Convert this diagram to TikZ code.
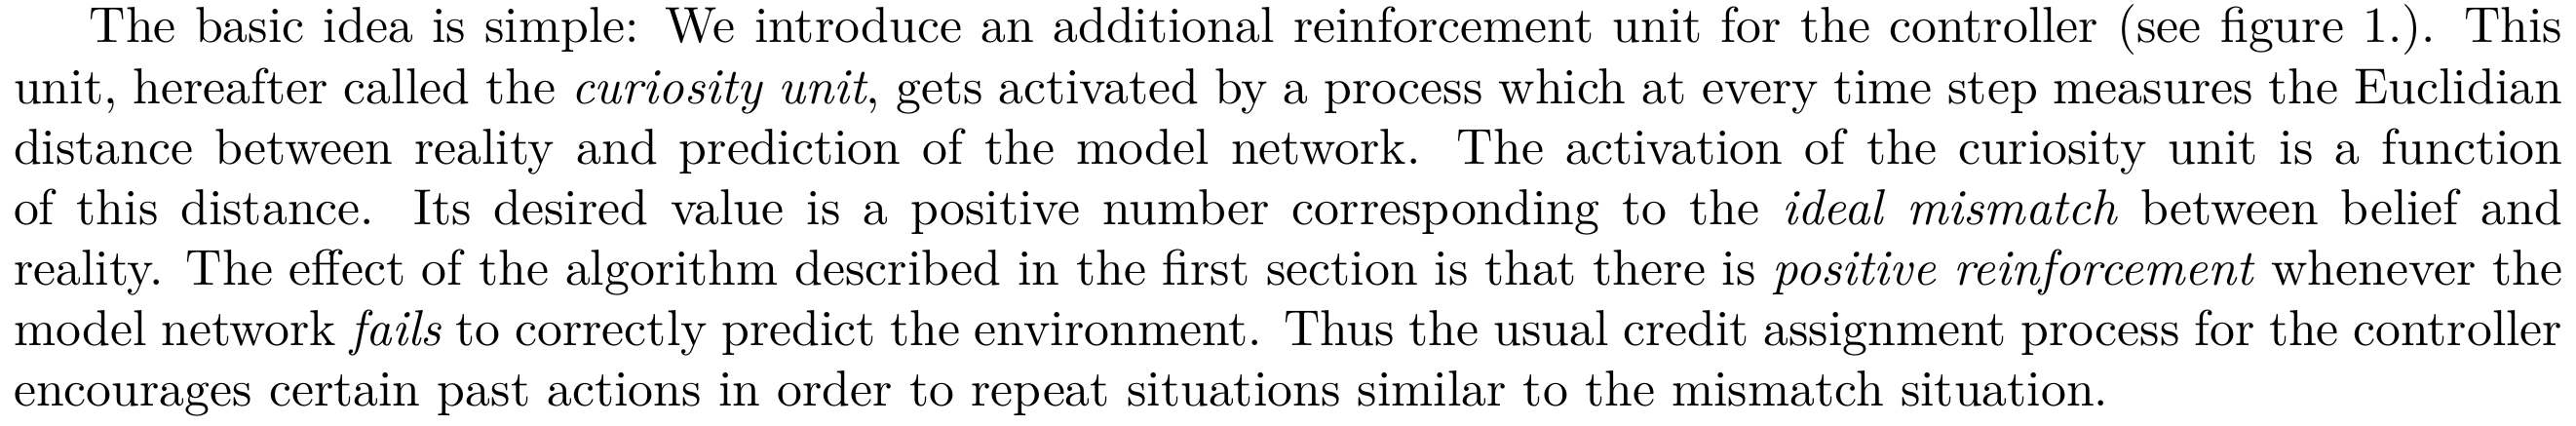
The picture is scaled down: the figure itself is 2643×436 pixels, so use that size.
\documentclass[tikz,border=0pt]{standalone}
\usepackage{tikz}
\usetikzlibrary{positioning}

\begin{document}
\begin{tikzpicture}[
        x=0.1931pt, y=-0.1931pt,
        para/.style={inner sep=0pt, anchor=north west, text width=505pt, align=justify, font=\fontsize{10}{12}\selectfont}
    ]
        \useasboundingbox (0,0) rectangle (2643,436);

        % the paragraph, broken where the reference breaks it
        \node[para] (idea) at (13,4) {\hspace*{15pt}The basic idea is simple: We introduce an additional reinforcement unit for the controller (see figure 1.). This\linebreak
        unit, hereafter called the \emph{curiosity unit}, gets activated by a process which at every time step measures the Euclidian\linebreak
        distance between reality and prediction of the model network. The activation of the curiosity unit is a function\linebreak
        of this distance. Its desired value is a positive number corresponding to the \emph{ideal mismatch} between belief and\linebreak
        reality. The effect of the algorithm described in the first section is that there is \emph{positive reinforcement} whenever the\linebreak
        model network \emph{fails} to correctly predict the environment. Thus the usual credit assignment process for the controller\linebreak
        encourages certain past actions in order to repeat situations similar to the mismatch situation.};

    \end{tikzpicture}
\end{document}
